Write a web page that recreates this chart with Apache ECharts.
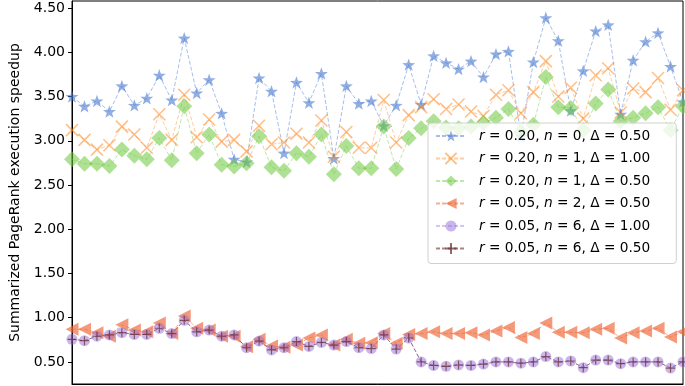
<!DOCTYPE html>
<html>
<head>
<meta charset="utf-8">
<script src="https://cdn.jsdelivr.net/npm/echarts@6/dist/echarts.min.js"></script>
<style>
html, body { margin: 0; padding: 0; background: #fff; }
#main { width: 685px; height: 386px; }
</style>
</head>
<body>
<div id="main"></div>
<script>
var runs = [];
for (var k = 1; k <= 50; k++) runs.push(String(k));

var yTicks = [0.5, 1.0, 1.5, 2.0, 2.5, 3.0, 3.5, 4.0, 4.5];

var names = [
    'r = 0.20, n = 0, Δ = 0.50',
    'r = 0.20, n = 1, Δ = 1.00',
    'r = 0.20, n = 1, Δ = 0.50',
    'r = 0.05, n = 2, Δ = 0.50',
    'r = 0.05, n = 6, Δ = 1.00',
    'r = 0.05, n = 6, Δ = 0.50'
];

var r20_n0_d50 = [3.50, 3.39, 3.45, 3.33, 3.62, 3.40, 3.48, 3.74, 3.46, 4.16,
    3.54, 3.69, 3.31, 2.79, 2.76, 3.71, 3.56, 2.86, 3.66, 3.43,
    3.76, 2.80, 3.62, 3.42, 3.45, 3.17, 3.40, 3.86, 3.41, 3.96,
    3.88, 3.81, 3.90, 3.72, 3.98, 4.01, 3.05, 3.89, 4.39, 4.13,
    3.34, 3.79, 4.24, 4.31, 3.30, 3.91, 4.12, 4.22, 3.84, 3.44];

var r20_n1_d100 = [3.12, 3.01, 2.90, 2.95, 3.16, 3.07, 2.92, 3.30, 3.01, 3.52,
    3.04, 3.24, 2.99, 3.01, 2.88, 3.17, 2.96, 2.98, 3.08, 2.98,
    3.23, 2.82, 3.10, 2.92, 2.92, 3.46, 2.98, 3.29, 3.38, 3.47,
    3.36, 3.41, 3.33, 3.28, 3.52, 3.57, 3.31, 3.55, 3.90, 3.50,
    3.60, 3.25, 3.74, 3.82, 3.32, 3.59, 3.55, 3.71, 3.35, 3.57];

var r20_n1_d50 = [2.79, 2.74, 2.74, 2.715, 2.90, 2.83, 2.79, 3.03, 2.78, 3.39,
    2.86, 3.07, 2.73, 2.71, 2.745, 3.05, 2.70, 2.66, 2.86, 2.82,
    3.07, 2.62, 2.94, 2.69, 2.69, 3.16, 2.68, 3.03, 3.14, 3.22,
    3.15, 3.14, 3.16, 3.20, 3.26, 3.36, 3.10, 3.18, 3.72, 3.38,
    3.37, 3.12, 3.42, 3.58, 3.22, 3.26, 3.31, 3.38, 3.12, 3.39];

var r05_n2_d50 = [0.87, 0.87, 0.83, 0.79, 0.92, 0.86, 0.84, 0.94, 0.82, 1.02,
    0.88, 0.86, 0.79, 0.79, 0.67, 0.755, 0.68, 0.665, 0.69, 0.77,
    0.805, 0.69, 0.755, 0.71, 0.715, 0.82, 0.71, 0.81, 0.82, 0.84,
    0.82, 0.82, 0.83, 0.805, 0.85, 0.89, 0.775, 0.82, 0.94, 0.835,
    0.835, 0.83, 0.87, 0.88, 0.77, 0.83, 0.85, 0.88, 0.78, 0.84];

var r05_n6_d100 = [0.755, 0.74, 0.79, 0.805, 0.83, 0.81, 0.81, 0.88, 0.82, 0.97,
    0.84, 0.86, 0.79, 0.805, 0.66, 0.735, 0.635, 0.66, 0.73, 0.675,
    0.72, 0.69, 0.73, 0.66, 0.65, 0.805, 0.645, 0.77, 0.50, 0.46,
    0.45, 0.465, 0.46, 0.475, 0.50, 0.50, 0.485, 0.50, 0.56, 0.50,
    0.51, 0.435, 0.52, 0.52, 0.48, 0.50, 0.50, 0.50, 0.43, 0.50];

var r05_n6_d50 = [0.755, 0.74, 0.79, 0.805, 0.83, 0.81, 0.81, 0.88, 0.82, 0.97,
    0.84, 0.86, 0.79, 0.805, 0.66, 0.735, 0.635, 0.66, 0.73, 0.675,
    0.72, 0.69, 0.73, 0.66, 0.65, 0.805, 0.645, 0.77, 0.50, 0.46,
    0.45, 0.465, 0.46, 0.475, 0.50, 0.50, 0.485, 0.50, 0.56, 0.50,
    0.51, 0.435, 0.52, 0.52, 0.48, 0.50, 0.50, 0.50, 0.43, 0.50];

// marker shapes (matplotlib style)
var STAR = 'path://M10,0 L12.35,6.76 L19.51,6.91 L13.80,11.24 L15.88,18.09 L10,14 L4.12,18.09 L6.20,11.24 L0.49,6.91 L7.65,6.76 Z';
var XMARK = 'path://M0,0 L10,10 M10,0 L0,10';
var PLUS = 'path://M5,0 L5,10 M0,5 L10,5';
var LTRI = 'path://M0,5 L10,0 L10,10 Z';

var FONT = 'DejaVu Sans';

function mkSeries(name, data, color, symbol, size, opts) {
    opts = opts || {};
    return {
        name: name,
        type: 'line',
        data: data,
        symbol: symbol,
        symbolSize: size,
        symbolKeepAspect: true,
        showAllSymbol: true,
        animation: false,
        lineStyle: { color: color, width: 1, type: [4, 2], opacity: opts.lineOpacity || 0.8 },
        itemStyle: {
            color: opts.stroke ? 'rgba(0,0,0,0)' : color,
            borderColor: color,
            borderWidth: opts.stroke || 0
        }
    };
}

var myChart = echarts.init(document.getElementById('main'));

var option = {
    backgroundColor: '#fff',
    textStyle: { fontFamily: FONT },
    grid: {
        left: 64, right: 2, top: 1, bottom: 2,
        show: true, borderColor: '#000', borderWidth: 1
    },
    xAxis: {
        type: 'category',
        data: runs,
        boundaryGap: false,
        axisLine: { show: true, lineStyle: { color: '#000' } },
        axisTick: { show: false },
        axisLabel: { show: false },
        splitLine: { show: false }
    },
    yAxis: {
        type: 'value',
        min: 0.25,
        max: 4.58,
        name: 'Summarized PageRank execution speedup',
        nameLocation: 'middle',
        nameGap: 50,
        nameTextStyle: { fontFamily: FONT, fontSize: 14, color: '#000' },
        axisLine: { show: true, lineStyle: { color: '#000' } },
        axisTick: { show: true, inside: false, length: 4, customValues: yTicks, lineStyle: { color: '#000' } },
        axisLabel: {
            customValues: yTicks,
            margin: 7,
            fontFamily: FONT, fontSize: 14, color: '#000',
            formatter: function (v) { return v.toFixed(2); }
        },
        splitLine: { show: false }
    },
    legend: {
        data: names,
        orient: 'vertical',
        left: 428,
        top: 123,
        itemWidth: 30,
        itemHeight: 14,
        itemGap: 6.5,
        padding: [5, 26, 7, 7],
        backgroundColor: 'rgba(255,255,255,0.8)',
        borderColor: '#d0d0d0',
        borderWidth: 1,
        borderRadius: 3,
        formatter: function (name) {
            return name.replace(/\b([rn])\b/g, '{i|$1}');
        },
        textStyle: {
            fontFamily: FONT, fontSize: 13.7, color: '#000', lineHeight: 16,
            padding: [0, 0, 0, 8],
            rich: { i: { fontFamily: FONT, fontSize: 13.7, fontStyle: 'italic', color: '#000' } }
        }
    },
    series: [
        mkSeries(names[0], r20_n0_d50, 'rgba(72,120,208,0.6)', STAR, 13),
        mkSeries(names[1], r20_n1_d100, 'rgba(255,127,14,0.5)', XMARK, 12, { stroke: 1.5 }),
        mkSeries(names[2], r20_n1_d50, 'rgba(110,200,60,0.55)', 'diamond', 16),
        mkSeries(names[3], r05_n2_d50, 'rgba(238,100,50,0.65)', LTRI, 13),
        mkSeries(names[4], r05_n6_d100, 'rgba(150,110,220,0.5)', 'circle', 11),
        mkSeries(names[5], r05_n6_d50, 'rgba(100,40,40,0.7)', PLUS, 9, { stroke: 1.2 })
    ]
};

myChart.setOption(option);
</script>
</body>
</html>
